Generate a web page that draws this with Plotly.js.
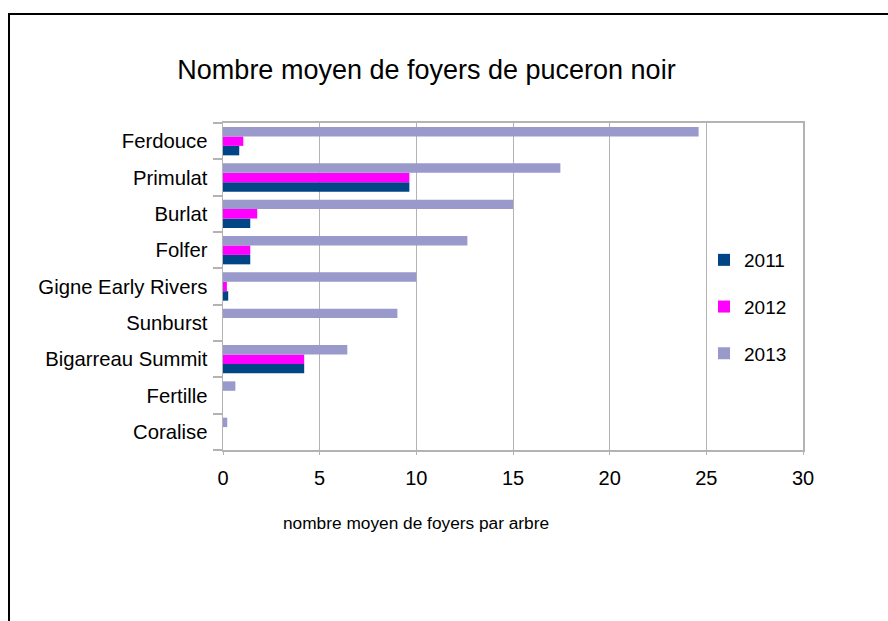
<!DOCTYPE html>
<html>
<head>
<meta charset="utf-8">
<script src="https://cdn.plot.ly/plotly-3.0.1.min.js"></script>
<style>
  html, body { margin: 0; padding: 0; background: #fff; overflow: hidden; }
  #wrap { position: relative; width: 888px; height: 621px; overflow: hidden; }
  #chart { position: absolute; left: 0; top: 0; width: 888px; height: 621px; }
  #frame { position: absolute; left: 8px; top: 13px; width: 1000px; height: 1000px;
           border: 2px solid #000; pointer-events: none; }
</style>
</head>
<body>
<div id="wrap">
  <div id="chart"></div>
  <div id="frame"></div>
</div>
<script>
// Categories, top to bottom as in the reference
const categories = ["Ferdouce", "Primulat", "Burlat", "Folfer", "Gigne Early Rivers",
                    "Sunburst", "Bigarreau Summit", "Fertille", "Coralise"];
const values2011 = [0.84, 9.64, 1.41, 1.41, 0.27, 0, 4.2, 0, 0];
const values2012 = [1.05, 9.64, 1.77, 1.41, 0.2, 0, 4.2, 0, 0];
const values2013 = [24.6, 17.45, 15.0, 12.64, 10.0, 9.02, 6.43, 0.64, 0.22];
const seriesNames = ["2011", "2012", "2013"];
const seriesColors = ["#004586", "#ff00ff", "#9999cc"];
const xTicks = [0, 5, 10, 15, 20, 25, 30];

const FONT = "Liberation Sans, Arial, sans-serif";
const allValues = [values2011, values2012, values2013];

const traces = allValues.map((vals, i) => ({
  type: "bar",
  orientation: "h",
  name: seriesNames[i],
  legendgroup: "g" + i,
  y: categories,
  x: vals,
  marker: { color: seriesColors[i], line: { width: 0 } },
  hoverinfo: "x+y+name"
}));

const layout = {
  width: 888,
  height: 621,
  paper_bgcolor: "#ffffff",
  plot_bgcolor: "#ffffff",
  margin: { l: 223, r: 85, t: 123, b: 171, pad: 0 },
  barmode: "group",
  bargap: 0.22,
  bargroupgap: 0,
  font: { family: FONT, color: "#000000" },
  title: {
    text: "Nombre moyen de foyers de puceron noir",
    font: { family: FONT, size: 27, color: "#000000" },
    xref: "container", yref: "container",
    x: 426.5 / 888, xanchor: "center",
    y: 1 - 70 / 621, yanchor: "middle"
  },
  xaxis: {
    range: [0, 30],
    tickvals: xTicks,
    ticktext: xTicks.map(String),
    showgrid: true,
    gridcolor: "#b3b3b3",
    gridwidth: 1,
    zeroline: false,
    showline: true,
    linecolor: "#b3b3b3",
    linewidth: 2,
    mirror: true,
    ticks: "outside",
    ticklen: 3,
    tickwidth: 1,
    tickcolor: "#b3b3b3",
    tickfont: { family: FONT, size: 20, color: "#000000" },
    ticklabelstandoff: 6,
    fixedrange: true
  },
  yaxis: {
    type: "category",
    categoryorder: "array",
    categoryarray: categories.slice().reverse(),
    showgrid: false,
    zeroline: false,
    showline: true,
    linecolor: "#b3b3b3",
    linewidth: 1.5,
    mirror: true,
    ticks: "outside",
    tickson: "boundaries",
    ticklen: 9,
    tickwidth: 2,
    tickcolor: "#b3b3b3",
    tickfont: { family: FONT, size: 20.3, color: "#000000" },
    ticklabelstandoff: 10,
    fixedrange: true
  },
  annotations: [{
    text: "nombre moyen de foyers par arbre",
    xref: "paper", yref: "paper",
    x: (416 - 223) / 580, xanchor: "center",
    y: -(523 - 450) / 327, yanchor: "middle",
    showarrow: false,
    font: { family: FONT, size: 17.3, color: "#000000" }
  }],
  legend: {
    x: (704 - 223) / 580,
    xanchor: "left",
    y: 1 - (241 - 123) / 327,
    yanchor: "top",
    bgcolor: "rgba(0,0,0,0)",
    borderwidth: 0,
    font: { family: FONT, size: 19, color: "#000000" },
    traceorder: "grouped",
    tracegroupgap: 19
  },
  showlegend: true
};

Plotly.newPlot("chart", traces, layout, { displayModeBar: false, staticPlot: true });
</script>
</body>
</html>
